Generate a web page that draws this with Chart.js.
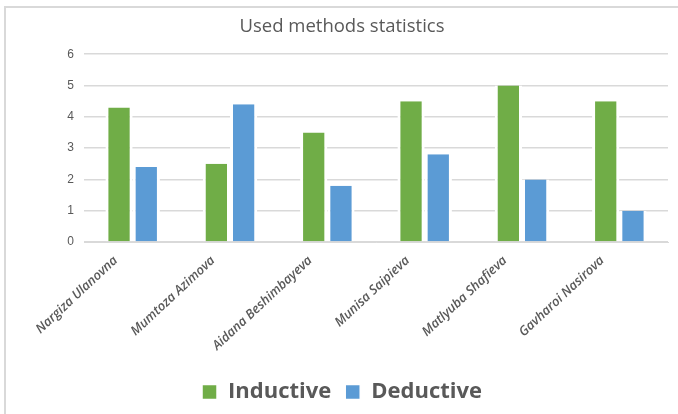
<!DOCTYPE html>
<html>
<head>
<meta charset="utf-8">
<script src="https://cdn.jsdelivr.net/npm/chart.js@4"></script>
<style>
  html, body { margin: 0; padding: 0; background: #fff; }
  #frame {
    position: absolute; left: 4px; top: 6px; width: 674px; height: 408px;
    border-top: 2px solid #d9d9d9; border-left: 2px solid #d9d9d9;
    box-sizing: border-box;
  }
  #wrap { position: absolute; left: 0; top: 0; width: 672px; height: 406px; }
</style>
</head>
<body>
<div id="frame"><div id="wrap"><canvas id="methodsChart"></canvas></div></div>
<script>
// chart data
const students = ['Nargiza Ulanovna', 'Mumtoza Azimova', 'Aidana Beshimbayeva',
                  'Munisa Saipieva', 'Matlyuba Shafieva', 'Gavharoi Nasirova'];
const inductive = [4.3, 2.5, 3.5, 4.5, 5.0, 4.5];
const deductive = [2.4, 4.4, 1.8, 2.8, 2.0, 1.0];
const yTicks = [0, 1, 2, 3, 4, 5, 6];

const gray = '#595959';
const gap = { top: 0, bottom: 0, left: 3, right: 3 };

function createMethodsChart() {
    const ctx = document.getElementById('methodsChart').getContext('2d');
    return new Chart(ctx, {
        type: 'bar',
        data: {
            labels: students,
            datasets: [{
                label: 'Inductive',
                data: inductive,
                backgroundColor: '#70ad47',
                borderColor: '#ffffff',
                borderWidth: gap,
                borderSkipped: false
            }, {
                label: 'Deductive',
                data: deductive,
                backgroundColor: '#5b9bd5',
                borderColor: '#ffffff',
                borderWidth: gap,
                borderSkipped: false
            }]
        },
        options: {
            responsive: true,
            maintainAspectRatio: false,
            animation: false,
            layout: { padding: { left: 10, right: 10, top: 4, bottom: 1 } },
            datasets: { bar: { categoryPercentage: 0.56, barPercentage: 1 } },
            scales: {
                x: {
                    grid: { display: false },
                    border: { color: '#d9d9d9', width: 1 },
                    afterFit: axis => { axis.height = 125; },
                    ticks: {
                        color: gray,
                        minRotation: 43,
                        maxRotation: 43,
                        labelOffset: -17,
                        font: { family: 'Open Sans', size: 13, style: 'italic', weight: '600' }
                    }
                },
                y: {
                    min: 0,
                    max: 6,
                    afterBuildTicks: axis => { axis.ticks = yTicks.map(v => ({ value: v })); },
                    afterFit: axis => { axis.width = 68; },
                    grid: { color: '#d9d9d9', lineWidth: 1.5, drawTicks: false },
                    border: { display: false },
                    ticks: {
                        color: gray,
                        padding: 10,
                        font: { family: 'Liberation Sans', size: 12 }
                    }
                }
            },
            plugins: {
                title: {
                    display: true,
                    text: 'Used methods statistics',
                    color: gray,
                    font: { family: 'Open Sans', size: 18.5, weight: 'normal' },
                    padding: { top: 4, bottom: 16 }
                },
                legend: {
                    position: 'bottom',
                    labels: {
                        color: gray,
                        boxWidth: 15,
                        boxHeight: 15,
                        padding: 14,
                        font: { family: 'Open Sans', size: 22, weight: 'bold' }
                    }
                },
                tooltip: { enabled: false }
            }
        }
    });
}

createMethodsChart();
</script>
</body>
</html>
